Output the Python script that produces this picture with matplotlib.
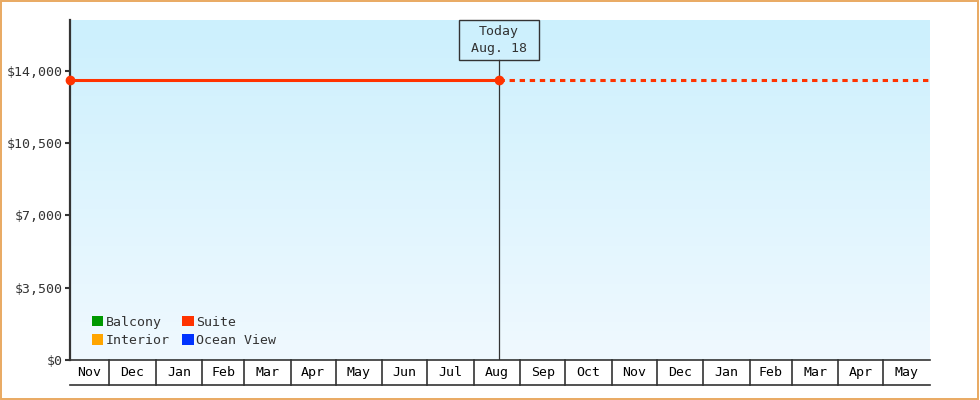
import matplotlib
matplotlib.use("Agg")
import matplotlib.pyplot as plt
import matplotlib.dates as mdates
from matplotlib.patches import Rectangle, Patch
import numpy as np
import datetime as dt

# ---- data ----
series_names = ["Balcony", "Interior", "Suite", "Ocean View"]
series_colors = ["#009900", "#ffa500", "#ff3300", "#0033ff"]
suite_dates = ["2024-11-05", "2025-08-18"]
suite_values = [13550, 13550]
suite_proj_dates = ["2025-08-18", "2026-06-01"]
suite_proj_values = [13550, 13550]
today = "2025-08-18"
today_label = "Today\nAug. 18"
range_start = "2024-11-05"
range_end = "2026-06-01"
y_ticks = [0, 3500, 7000, 10500, 14000]
y_tick_labels = ["$0", "$3,500", "$7,000", "$10,500", "$14,000"]
y_max = 16450

def d(s):
    return mdates.date2num(dt.datetime.strptime(s, "%Y-%m-%d"))

FONT = "DejaVu Sans Mono"
FS = 9.5
DARK = "#333333"

fig = plt.figure(figsize=(9.8, 4.0), dpi=100)
fig.patch.set_facecolor("white")
fig.patches.append(Rectangle((0.001, 0.002), 0.997, 0.995, transform=fig.transFigure,
                             fill=False, edgecolor="#e9a961", linewidth=1.4, zorder=10))

ax = fig.add_axes([70/980, 40/400, 860/980, 340/400])
x0, x1 = d(range_start), d(range_end)
ax.set_xlim(x0, x1)
ax.set_ylim(0, y_max)

# gradient background
grad = np.linspace(0, 1, 256).reshape(-1, 1)
top = np.array([0xcc, 0xf0, 0xfd]) / 255
bot = np.array([0xf0, 0xf9, 0xff]) / 255
img = top[None, None, :] * (1 - grad[:, :, None]) + bot[None, None, :] * grad[:, :, None]
ax.imshow(img, extent=[0, 1, 0, 1], transform=ax.transAxes, aspect="auto", zorder=0)
ax.set_facecolor("none")

# spines
for s in ["top", "right"]:
    ax.spines[s].set_visible(False)
ax.spines["left"].set_linewidth(1.6)
ax.spines["left"].set_color(DARK)
ax.spines["bottom"].set_linewidth(1.2)
ax.spines["bottom"].set_color(DARK)

ax.set_yticks(y_ticks)
ax.set_yticklabels(y_tick_labels, fontfamily=FONT, fontsize=FS, color=DARK)
ax.tick_params(axis="y", direction="out", length=3.6, width=1.5, color=DARK, pad=1.5)
ax.set_xticks([])

# month cells below axis
months = []
cur = dt.datetime(2024, 11, 1)
end_dt = dt.datetime.strptime(range_end, "%Y-%m-%d")
while cur < end_dt:
    nxt = dt.datetime(cur.year + (cur.month == 12), cur.month % 12 + 1, 1)
    months.append((cur, nxt))
    cur = nxt
trans = matplotlib.transforms.blended_transform_factory(ax.transData, ax.transAxes)
cell_bottom = -25/340
for a, b in months:
    na, nb = max(mdates.date2num(a), x0), min(mdates.date2num(b), x1)
    if mdates.date2num(a) > x0:
        ax.plot([na, na], [0, cell_bottom], transform=trans, color=DARK, lw=1.2, clip_on=False)
    ax.text((na + nb) / 2, cell_bottom / 2, a.strftime("%b"), transform=trans,
            ha="center", va="center", fontfamily=FONT, fontsize=FS, color="black")
ax.plot([x0, x1], [cell_bottom, cell_bottom], transform=trans, color=DARK, lw=1.2, clip_on=False)

# series
ax.plot([d(s) for s in suite_dates], suite_values, color=series_colors[2], lw=2.2,
        marker="o", ms=6, zorder=5, clip_on=False)
ax.plot([d(s) for s in suite_proj_dates], suite_proj_values, color=series_colors[2], lw=2.2,
        dashes=(1.75, 1.55), zorder=4, clip_on=False)

# today line and box
t = d(today)
box_h = 40/340
ax.plot([t, t], [0, 1 - box_h], transform=trans, color=DARK, lw=0.9, zorder=3)
tf = (t - x0) / (x1 - x0)
bw = 80/860
ax.add_patch(Rectangle((tf - bw/2, 1 - box_h), bw, box_h, transform=ax.transAxes,
                       fill=False, edgecolor=DARK, lw=1.0, zorder=6, clip_on=False))
ax.text(tf, 1 - box_h/2, today_label, transform=ax.transAxes, ha="center", va="center",
        fontfamily=FONT, fontsize=FS, color=DARK, linespacing=1.35, zorder=7)

# legend
handles = [Patch(facecolor=c, edgecolor="none", label=n) for n, c in zip(series_names, series_colors)]
leg = ax.legend(handles=handles, ncol=2, loc="lower left", bbox_to_anchor=(22/860, 13/340),
                frameon=False, prop={"family": FONT, "size": FS}, handlelength=0.85,
                handleheight=0.85, handletextpad=0.2, columnspacing=0.95, labelspacing=0.4,
                borderaxespad=0, borderpad=0)
for txt in leg.get_texts():
    txt.set_color(DARK)

fig.savefig("out.png", dpi=100)
